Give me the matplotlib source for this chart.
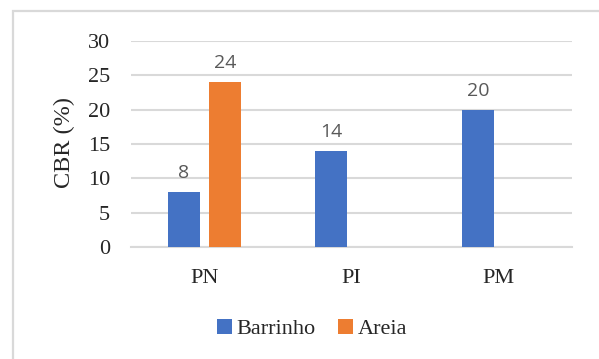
import matplotlib.pyplot as plt
from matplotlib.patches import Rectangle

plt.rcParams['font.family'] = ['Liberation Serif', 'DejaVu Serif']

# data
categories = ['PN', 'PI', 'PM']
barrinho = [8, 14, 20]
areia = [24, None, None]

blue = '#4472C4'
orange = '#ED7D31'
grid_c = '#D9D9D9'
text_c = '#262626'

fig = plt.figure(figsize=(5.99, 3.59), dpi=100)
ax = fig.add_axes([131/599, 1 - 247/359, 441/599, 206/359])

x = list(range(len(categories)))
w = 0.22
off = 0.14

b1 = ax.bar([i - off for i in x], barrinho, width=w, color=blue, label='Barrinho', zorder=3)
ax_x = [i + off for i, v in zip(x, areia) if v is not None]
ax_v = [v for v in areia if v is not None]
b2 = ax.bar(ax_x, ax_v, width=w, color=orange, label='Areia', zorder=3)

# data labels
for xs, vs in [([i - off for i in x], barrinho), (ax_x, ax_v)]:
    for xi, vi in zip(xs, vs):
        ax.annotate(str(vi), (xi, vi), xytext=(0, 7), textcoords='offset points',
                    ha='center', va='bottom', fontsize=14, color='#595959',
                    family='Open Sans')

ax.set_xlim(-0.5, 2.5)
ax.set_ylim(0, 30)
ax.set_yticks(range(0, 31, 5))
ax.set_xticks(x)
ax.set_xticklabels(categories)
ax.yaxis.grid(True, color=grid_c, linewidth=1.5, zorder=0)
ax.set_axisbelow(True)
for s in ['top', 'right', 'left']:
    ax.spines[s].set_visible(False)
ax.spines['bottom'].set_color(grid_c)
ax.spines['bottom'].set_linewidth(1.5)
ax.tick_params(axis='y', length=0, pad=15, labelsize=16, labelcolor=text_c)
ax.tick_params(axis='x', length=0, pad=16, labelsize=16, labelcolor=text_c)

fig.text(64/599, 1 - 143/359, 'CBR (%)', rotation=90, ha='center', va='center',
         fontsize=17.5, color=text_c)

fig.legend(handles=[b1, b2], loc='center', bbox_to_anchor=(312/599, 1 - 329/359),
           ncol=2, frameon=False, fontsize=16, labelcolor=text_c,
           handlelength=0.7, handleheight=0.7, handletextpad=0.2, columnspacing=1.0)

# chart border
fig.patches.append(Rectangle((13/599, -0.2), 1.0, 1.2 - 11/359, transform=fig.transFigure,
                             fill=False, edgecolor=grid_c, linewidth=1.6))

fig.savefig('out.png', dpi=100)
